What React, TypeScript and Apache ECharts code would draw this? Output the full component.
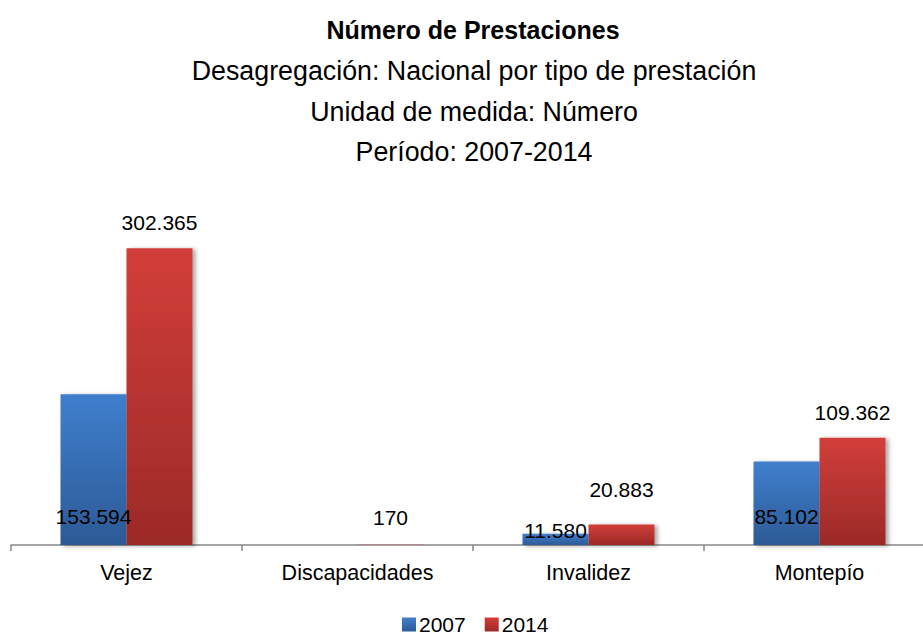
import React, { useEffect, useRef } from "react";
import * as echarts from "echarts";

const categories = ["Vejez", "Discapacidades", "Invalidez", "Montepío"];
const seriesNames = ["2007", "2014"];
const values2007: (number | null)[] = [153594, null, 11580, 85102];
const values2014: (number | null)[] = [302365, 170, 20883, 109362];
const titleText = "Número de Prestaciones";
const subtitleLines = [
  "Desagregación: Nacional por tipo de prestación",
  "Unidad de medida: Número",
  "Período: 2007-2014",
];
const yMax = 350000;

const FONT = "'Liberation Sans', Arial, sans-serif";

const fmt = (v: number) => String(v).replace(/\B(?=(\d{3})+(?!\d))/g, ".");

const grad = (top: string, bottom: string) =>
  new echarts.graphic.LinearGradient(0, 0, 0, 1, [
    { offset: 0, color: top },
    { offset: 1, color: bottom },
  ]);

export default function App() {
  const ref = useRef<HTMLDivElement>(null);
  useEffect(() => {
    document.body.style.margin = "0";
    if (!ref.current) return;
    const chart = echarts.init(ref.current, undefined, { renderer: "svg" });
    const blue = grad("#3f7fcd", "#2c5a96");
    const red = grad("#d23e3a", "#9b2a27");
    const labelDist2007: Record<number, number> = { 2: 4 };
    const labelDist2014: Record<number, number> = { 1: 17, 2: 25 };
    const shadow = {
      shadowColor: "rgba(0,0,0,0.35)",
      shadowBlur: 4,
      shadowOffsetX: 3,
      shadowOffsetY: 1,
    };
    const axisTop = 545;
    const plotH = 343.4;
    const titles: any[] = [
      {
        text: titleText,
        left: 473,
        textAlign: "center",
        top: 30 - 13,
        padding: 0,
        textStyle: { fontFamily: FONT, fontWeight: "bold", fontSize: 25, lineHeight: 26, color: "#000" },
      },
      ...subtitleLines.map((t, i) => ({
        text: t,
        left: 474,
        textAlign: "center",
        top: [71, 112, 152][i] - 14,
        padding: 0,
        textStyle: { fontFamily: FONT, fontWeight: "normal", fontSize: 26.8, lineHeight: 28, color: "#000" },
      })),
    ];
    chart.setOption({
      animation: false,
      title: titles,
      legend: {
        data: seriesNames,
        left: 402,
        top: 614,
        padding: 0,
        itemWidth: 14,
        itemHeight: 14,
        itemGap: 19,
        textStyle: { fontFamily: FONT, fontSize: 21, lineHeight: 21, color: "#000", padding: [0, 0, 0, -2] },
        icon: "rect",
      },
      grid: { left: 11, top: axisTop - plotH, width: 924, height: plotH, containLabel: false },
      xAxis: {
        type: "category",
        data: categories,
        axisLine: { lineStyle: { color: "#878787", width: 1.5 } },
        axisTick: { show: true, length: 6, interval: 0, lineStyle: { color: "#878787", width: 1.5 } },
        axisLabel: { fontFamily: FONT, fontSize: 21.5, color: "#000", margin: 17, interval: 0 },
      },
      yAxis: {
        type: "value",
        min: 0,
        max: yMax,
        show: false,
        splitLine: { show: false },
      },
      series: [
        {
          name: seriesNames[0],
          type: "bar",
          barWidth: 66,
          barGap: "0%",
          itemStyle: { color: blue, ...shadow },
          label: {
            show: true,
            position: "insideBottom",
            distance: 18,
            fontFamily: FONT,
            fontSize: 21,
            color: "#000",
            formatter: (p: any) => fmt(p.value),
          },
          data: values2007.map((v, i) =>
            labelDist2007[i] !== undefined ? { value: v, label: { distance: labelDist2007[i] } } : v
          ),
        },
        {
          name: seriesNames[1],
          type: "bar",
          barWidth: 66,
          barGap: "0%",
          itemStyle: { color: red, ...shadow },
          label: {
            show: true,
            position: "top",
            distance: 15,
            fontFamily: FONT,
            fontSize: 21,
            color: "#000",
            formatter: (p: any) => fmt(p.value),
          },
          data: values2014.map((v, i) =>
            labelDist2014[i] !== undefined ? { value: v, label: { distance: labelDist2014[i] } } : v
          ),
        },
      ],
    });
    return () => chart.dispose();
  }, []);
  return (
    <div style={{ width: 923, height: 635, overflow: "hidden" }}>
      <div ref={ref} style={{ width: 940, height: 635 }} />
    </div>
  );
}
